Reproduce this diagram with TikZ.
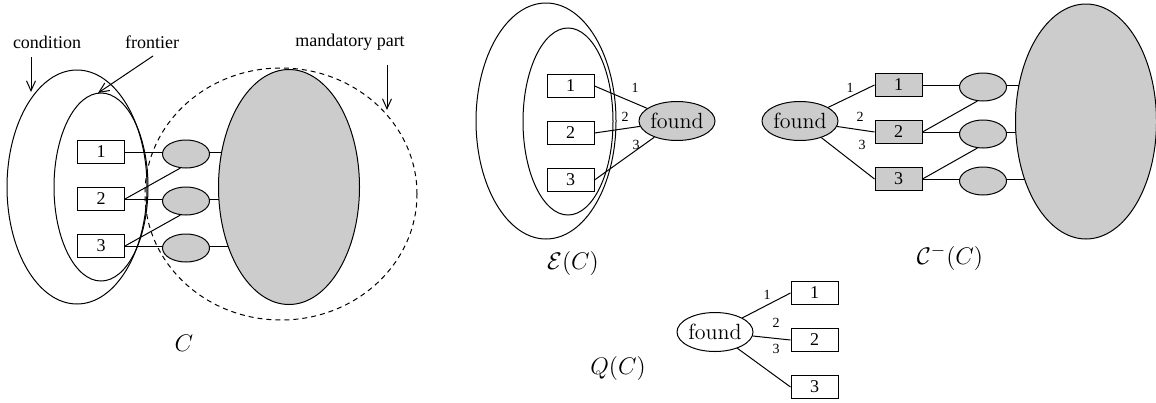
\documentclass[tikz,border=0pt]{standalone}
\usepackage{fontspec}
\setmainfont{Liberation Serif}
\usetikzlibrary{shapes.geometric,arrows.meta,backgrounds}
\definecolor{gfill}{gray}{0.8}
\begin{document}
\begin{tikzpicture}[x=0.5pt,y=-0.5pt, line width=0.5pt,
 box/.style={draw,fill=white,minimum width=23.5pt,minimum height=11.5pt,inner sep=0pt,font=\fontsize{9}{10}\selectfont},
 gbox/.style={box,fill=gfill},
 sell/.style={ellipse,draw,fill=gfill,minimum width=23.5pt,minimum height=14pt,inner sep=0pt},
 bigell/.style={ellipse,draw,fill=gfill,minimum width=70.5pt,minimum height=117.5pt,inner sep=0pt},
 ring/.style={ellipse,draw,inner sep=0pt},
 foundnode/.style={ellipse,draw,minimum width=38pt,minimum height=19.5pt,inner sep=0pt,font=\fontfamily{lmr}\fontsize{11}{12}\selectfont},
 elab/.style={inner sep=0pt,font=\fontsize{7}{8}\selectfont},
 tlab/.style={inner sep=0pt,font=\fontsize{9}{10}\selectfont},
 mlab/.style={inner sep=0pt,font=\fontsize{13}{15}\selectfont},
 arr/.style={-{Straight Barb[length=5pt,width=4.5pt]}}]
\useasboundingbox (0,0) rectangle (1156,402);

% ---------- Panel C ----------
\node[ring, minimum width=70pt, minimum height=117pt] (cond) at (77,187) {};
\node[ring, minimum width=47pt, minimum height=94pt] (front) at (101,187) {};
\node[ellipse,draw,dash pattern=on 2.5pt off 2pt, minimum width=136pt, minimum height=126pt, inner sep=0pt] (mand) at (281,194) {};
\node[bigell] (cbig) at (289,187) {};
\node[box] (cb1) at (101,152) {1};
\node[box] (cb2) at (101,199) {2};
\node[box] (cb3) at (101,246) {3};
\node[sell] (cs1) at (186,154) {};
\node[sell] (cs2) at (186,201) {};
\node[sell] (cs3) at (186,248) {};
\begin{scope}[on background layer]
\draw (cb1.east) -- (cb1.east -| cbig.center);
\draw (cb2.east) -- (cb2.east -| cbig.center);
\draw (cb3.east) -- (cb3.east -| cbig.center);
\end{scope}
\draw (cb2.east) -- (cs1.248);
\draw (cb3.east) -- (cs2.248);
\node[tlab] (tcond) at (47,42) {condition};
\node[tlab] (tfront) at (152,42) {frontier};
\node[tlab] (tmand) at (350,42) {mandatory part};
\coordinate (a1s) at (31,57); \coordinate (a1e) at (31,92);
\coordinate (a2s) at (153,56); \coordinate (a2e) at (98,93);
\coordinate (a3s) at (387,65); \coordinate (a3e) at (387,110);
\draw[arr] (a1s) -- (a1e);
\draw[arr] (a2s) -- (a2e);
\draw[arr] (a3s) -- (a3e);
\node[mlab] (lc) at (184,343) {$C$};

% ---------- Panel E(C) ----------
\node[ring, minimum width=70pt, minimum height=118pt] (eout) at (546,121) {};
\node[ring, minimum width=45pt, minimum height=93.5pt] (ein) at (568,121.5) {};
\node[box] (eb1) at (570.5,86) {1};
\node[box] (eb2) at (570.5,133) {2};
\node[box] (eb3) at (570.5,180) {3};
\node[foundnode, fill=gfill] (efound) at (677,121) {found};
\draw (eb1.east) -- (efound);
\draw (eb2.east) -- (efound);
\draw (eb3.east) -- (efound);
\node[elab] (el1) at (635,88) {1};
\node[elab] (el2) at (625,117) {2};
\node[elab] (el3) at (636,145) {3};
\node[mlab] (le) at (573,263) {$\mathcal{E}(C)$};

% ---------- Panel C^-(C) ----------
\node[bigell] (mbig) at (1086,121.5) {};
\node[foundnode, fill=gfill] (mfound) at (800,121) {found};
\node[gbox] (mb1) at (898.5,85) {1};
\node[gbox] (mb2) at (898.5,132) {2};
\node[gbox] (mb3) at (898.5,179) {3};
\node[sell] (ms1) at (983,87) {};
\node[sell] (ms2) at (983,134) {};
\node[sell] (ms3) at (983,181) {};
\begin{scope}[on background layer]
\draw (mb1.east) -- (mb1.east -| mbig.center);
\draw (mb2.east) -- (mb2.east -| mbig.center);
\draw (mb3.east) -- (mb3.east -| mbig.center);
\end{scope}
\draw (mb2.east) -- (ms1.248);
\draw (mb3.east) -- (ms2.248);
\draw (mfound) -- (mb1.west);
\draw (mfound) -- (mb2.west);
\draw (mfound) -- (mb3.west);
\node[elab] (ml1) at (850,88) {1};
\node[elab] (ml2) at (860,117) {2};
\node[elab] (ml3) at (862,145) {3};
\node[mlab] (lm) at (950,258) {$\mathcal{C}^{-}(C)$};

% ---------- Panel Q(C) ----------
\node[foundnode, fill=white] (qfound) at (715,332) {found};
\node[box] (qb1) at (814.5,293) {1};
\node[box] (qb2) at (814.5,340) {2};
\node[box] (qb3) at (814.5,387) {3};
\draw (qfound) -- (qb1.west);
\draw (qfound) -- (qb2.west);
\draw (qfound) -- (qb3.west);
\node[elab] (ql1) at (767,295) {1};
\node[elab] (ql2) at (776,323) {2};
\node[elab] (ql3) at (776,349) {3};
\node[mlab] (lq) at (618,368) {$Q(C)$};
\end{tikzpicture}
\end{document}
